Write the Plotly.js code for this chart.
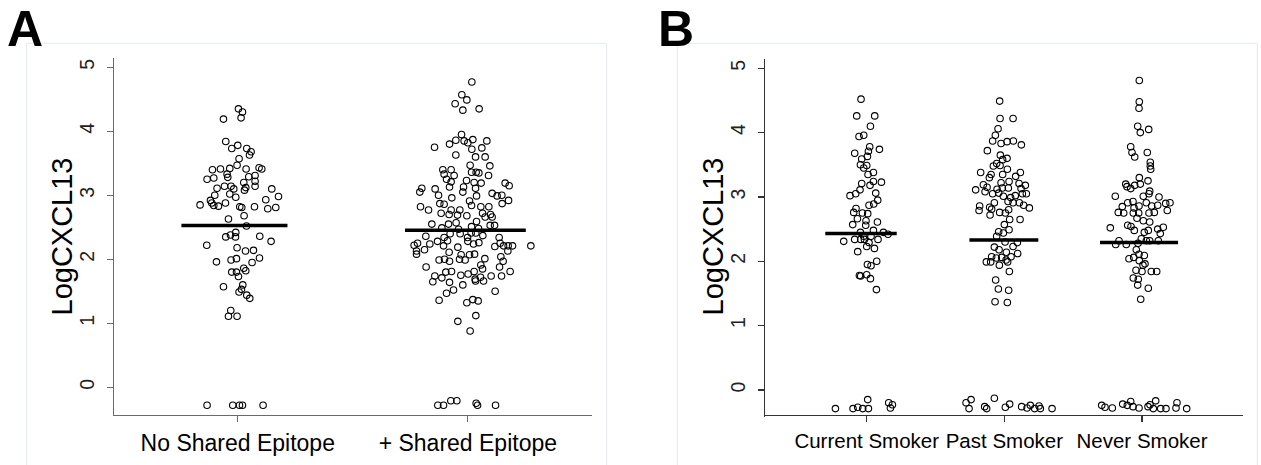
<!DOCTYPE html>
<html>
<head>
<meta charset="utf-8">
<script src="https://cdn.plot.ly/plotly-3.0.1.min.js"></script>
<style>html,body{margin:0;padding:0;background:#fff;}#chart{width:1261px;height:465px;}</style>
</head>
<body>
<div id="chart"></div>
<script>
// ---------- Panel A : Shared epitope ----------
var catsA = ["No Shared Epitope", "+ Shared Epitope"];
var noSE_y = [4.35,4.30,4.21,4.19,3.84,3.78,3.73,3.73,3.68,3.63,3.57,3.47,3.40,3.41,3.42,3.41,3.43,3.41,3.33,3.28,3.25,3.27,3.29,3.31,3.20,3.22,3.14,3.12,3.08,3.11,3.14,3.14,3.10,3.10,3.02,3.00,2.97,2.98,2.93,2.92,2.88,2.88,2.85,2.83,2.84,2.82,2.81,2.82,2.79,2.81,2.68,2.63,2.52,2.42,2.38,2.35,2.35,2.36,2.28,2.22,2.18,2.13,2.14,1.96,1.99,2.01,2.02,1.95,1.80,1.80,1.73,1.86,1.82,1.57,1.60,1.53,1.49,1.44,1.39,1.20,1.11,1.11,-0.28,-0.28,-0.28,-0.28,-0.28];
var noSE_jit = [0.7,4.7,3.3,-14.3,-12,0,-6,9,13.3,11.7,1.3,-0.7,-25.3,-17.3,-8,8.3,21.3,24,-10.7,-10,-30.7,-24,11,17.3,6,17.3,17.3,8,6.7,-20.7,-13.3,-6.7,-4,34,-8,-23,-2,40.7,28,-27.3,-26,-12.3,-37.7,-19.3,-24,2,4,16.7,30,38,6.3,-9.3,8.7,-2,-7.3,-12,-2.3,22,33.3,-31,-0.7,7.7,15.7,-21.3,-6.7,-1.3,21.7,14.3,-6,-1.3,0.7,6,8,-14.3,5,3.7,1.3,9,12,-7,-9.3,-0.7,-30.7,-5,1.7,4.7,25.3];
var SE_y = [4.77,4.57,4.49,4.43,4.33,4.35,3.95,3.86,3.80,3.85,3.82,3.87,3.85,3.75,3.72,3.74,3.63,3.60,3.60,3.47,3.46,3.40,3.40,3.36,3.36,3.35,3.33,3.31,3.31,3.25,3.23,3.21,3.20,3.19,3.13,3.13,3.11,3.19,3.15,3.11,3.05,3.10,3.05,3.00,2.96,2.99,3.03,2.99,3.00,2.92,2.87,2.91,2.87,2.86,2.84,2.82,2.77,2.82,2.82,2.77,2.77,2.72,2.70,2.69,2.68,2.72,2.66,2.70,2.66,2.59,2.57,2.55,2.55,2.51,2.53,2.53,2.49,2.47,2.48,2.40,2.40,2.41,2.41,2.36,2.37,2.34,2.34,2.34,
  2.22,2.25,2.13,2.08,2.15,2.24,2.28,2.21,2.29,2.19,2.28,2.24,2.26,2.20,2.25,2.21,2.13,2.21,2.21,2.21,2.11,2.07,2.07,2.08,1.99,2.00,1.97,2.00,1.99,2.01,2.04,1.97,1.88,1.91,1.85,1.88,1.80,1.81,1.81,1.81,1.74,1.71,1.75,1.77,1.69,1.72,1.74,1.74,1.65,1.64,1.66,1.66,1.60,1.52,1.47,1.50,1.36,1.32,1.37,1.35,1.03,1.12,0.88,-0.28,-0.28,-0.21,-0.21,-0.25,-0.28,-0.28];
var SE_jit = [4,-6,-1,-12.7,-5,11.3,-6.3,-12,-18.3,-3.7,0,5,19,-33.3,4,14,-12,7.7,17.3,2.3,22,-25,-16.7,3.7,8.3,11,-23.7,-13.7,20.7,-21.3,-1.3,-16.7,6.3,13.3,-18.3,-4.3,7.7,37.3,41.3,-46,-48,-32.7,-5,-29.3,-16,8.7,24.3,29.3,34,40.7,34.3,1.7,-28,-23.7,3.7,-47.3,-39.3,13,21,-16.7,-8,-26.7,-18.7,-10.3,-1,14.7,17.3,22.7,24.3,8.7,-11.7,-36,-19.3,3.7,22.3,26.7,-26,-9.3,10.7,-7.7,-17.7,3.3,8,-42,15,31.3,-23.7,-0.3,
  -53.7,-50.3,-51.3,-51.3,-43.3,-38,-30.3,-24.3,-20.3,-10,0,5.7,11,27,32.3,35.7,40,40.3,44.7,63,-18.7,-6.7,1.7,6.7,-28.7,-23.3,-18.3,-8.3,-2.7,17,33,35.3,-41.7,13,14.7,31.7,-22,-16.3,6.3,42.3,-33,-26,-7,0.3,7.3,12.7,23.3,33.7,-35,-18.3,7.7,15.7,-5,-14.3,-21.3,27.3,-28.7,-1,5,10.3,-10,8,2.3,-30,-24.3,-17,-11,8.3,9.7,27.7];
var mediansA = [2.526, 2.453];

// ---------- Panel B : Smoking status ----------
var catsB = ["Current Smoker", "Past Smoker", "Never Smoker"];
var current_y = [4.52,4.26,4.26,4.10,3.94,3.96,3.78,3.74,3.68,3.71,3.63,3.59,3.50,3.49,3.45,3.38,3.35,3.23,3.24,3.21,3.18,3.11,3.05,3.02,3.06,2.95,2.89,2.87,2.82,2.76,2.75,2.74,2.66,2.63,2.61,2.57,2.56,2.48,2.45,2.45,2.42,2.39,2.39,2.31,2.34,2.34,2.34,2.34,2.29,2.23,2.20,2.15,2.00,1.95,1.93,1.78,1.77,1.79,1.73,1.56,-0.29,-0.29,-0.27,-0.29,-0.29,-0.15,-0.20,-0.28,-0.23];
var current_jit = [-5.7,-10,8,3.7,-7.7,-3,3,12.7,-12,1.7,0.7,-5,-6.3,0,-3,6.7,1.3,14.7,6.7,-5,3.3,-6.7,-11,-16.7,9,11,7,2.3,-10.7,-13,-4.3,1,-9.3,-0.7,10.7,-14,-1,6.7,-6.3,16.7,21.3,-3,4.3,-23,-12,-6,-2.3,11.3,2.3,0,7.7,-9,10,0.7,4.3,-7.3,-6,0,3.7,9.7,-31.3,-13.7,-9,-4,1.7,1,22,23.7,25.7];
var past_y = [4.49,4.22,4.22,4.06,3.96,3.87,3.83,3.86,3.87,3.81,3.72,3.65,3.60,3.58,3.52,3.48,3.49,3.43,3.38,3.35,3.35,3.38,3.32,3.30,3.22,3.24,3.21,3.18,3.19,3.15,3.11,3.08,3.12,3.14,3.14,3.13,3.05,3.06,3.01,2.99,3.02,3.05,3.05,2.91,2.93,2.91,2.91,2.87,2.83,2.86,2.79,2.84,2.81,2.76,2.75,2.80,2.72,2.65,2.65,2.57,2.49,2.46,2.44,2.39,2.30,2.29,2.23,2.22,2.18,2.14,2.12,2.07,2.05,2.06,2.07,2.02,1.99,1.99,1.94,1.99,1.84,1.71,1.57,1.55,1.37,1.36,-0.20,-0.15,-0.29,-0.26,-0.29,-0.13,-0.27,-0.22,-0.26,-0.28,-0.24,-0.29,-0.25,-0.29,-0.29];
var past_jit = [-4.7,-4.3,8.7,-6.3,-9,-11.7,-3.3,2.7,9,17,-17,-4,2.7,-1.7,-7.7,-11,-4.3,3,-23.7,-13.3,-1.7,16,11.3,-15,-3.3,4.7,14.7,21,-21,-17.3,-28.7,-19.3,-7.3,-2,4,16.7,-11.7,-5.7,-1,6.3,11,18,22,-10,3.7,8.7,15,19.3,25,-24.7,-25.3,-14.7,-12.7,-4.7,1,4.3,-14.3,5.3,15.7,0,4.7,-5.7,-1,-7.7,0.7,13,8.7,-10,-5.3,2,13.3,-12.7,-8,-2.7,6.7,1.7,-18,-13.7,-5,3.3,5,-8.7,-6,4.3,-9.3,3,-38.3,-33.3,-35.3,-19.7,-17.7,-10,1,5.3,17.3,22.7,26,30.3,34.7,36,47.7];
var never_y = [4.81,4.48,4.38,4.10,4.00,4.05,3.78,3.69,3.62,3.69,3.54,3.48,3.43,3.30,3.25,3.20,3.16,3.13,3.18,3.20,3.09,3.05,3.01,3.01,3.00,2.93,2.91,2.85,2.91,2.83,2.86,2.86,2.87,2.90,2.91,2.79,2.76,2.75,2.75,2.75,2.75,2.76,2.67,2.63,2.61,2.56,2.54,2.52,2.53,2.50,2.48,2.48,2.45,2.43,2.35,2.32,2.26,2.26,2.28,2.32,2.32,2.32,2.18,2.11,2.09,2.04,2.06,2.01,1.96,1.94,1.86,1.84,1.84,1.84,1.74,1.72,1.63,1.58,1.41,-0.24,-0.27,-0.28,-0.22,-0.18,-0.24,-0.26,-0.28,-0.26,-0.23,-0.29,-0.17,-0.29,-0.29,-0.20,-0.28,-0.29];
var never_jit = [-2.7,-2.7,-3,-4.3,-1.7,6.7,-11.3,-10,-7.3,5.3,8.3,8.3,8.7,-2.7,6,-16.3,-15,-11.3,-7.3,-1.7,7.7,7,-26.7,1.3,17,-9,4.3,-19.7,-14.3,-8,-3,9.7,15.7,23.7,28,25.3,-23.7,-18.3,-8.7,-3.3,7,12.3,-5,1.3,7.7,-14.3,-11,-31.7,21.3,15.7,6.3,-7.7,2.3,18.3,-0.7,-23,-26.3,-15.7,-4,4.3,7.7,16.3,-5.7,-3,2.3,-13,-8.3,-2.7,3,1,-6,0,9.3,14.7,-8.7,-3.7,-4.3,6.3,-1.3,-40.3,-37,-29.7,-19.3,-11.3,-14.7,-9,-3,6,8,11.3,13.7,18.7,24,35,34,44.7];
var mediansB = [2.43, 2.33, 2.29];

var yTicks = [0, 1, 2, 3, 4, 5];
var yTitle = "LogCXCL13";
var panelLetters = ["A", "B"];

// jitter values are horizontal offsets in units of 1/N of a category step
var JIT_A = 230, JIT_B = 137.65;
// median bar extents (category units, left/right of centre)
var barA = [[-0.245, 0.216], [-0.273, 0.252]];
var barB = [[-0.301, 0.218], [-0.254, 0.247], [-0.305, 0.262]];

var FONT = "Liberation Sans, Arial, Helvetica, sans-serif";
var traces = [];
function dots(idx, ys, jit, div, xa, ya, name) {
  traces.push({
    type: "scatter", mode: "markers", name: name, xaxis: xa, yaxis: ya,
    x: ys.map(function (v, i) { return idx + jit[i] / div; }), y: ys,
    marker: { symbol: "circle-open", size: 6.5, color: "#000", line: { width: 1.1, color: "#000" } },
    hoverinfo: "y", showlegend: false
  });
}
function bar(idx, m, ext, xa, ya) {
  traces.push({
    type: "scatter", mode: "lines", xaxis: xa, yaxis: ya,
    x: [idx + ext[0], idx + ext[1]], y: [m, m],
    line: { color: "#000", width: 3.5 }, hoverinfo: "skip", showlegend: false
  });
}
dots(0, noSE_y, noSE_jit, JIT_A, "x", "y", catsA[0]);
dots(1, SE_y, SE_jit, JIT_A, "x", "y", catsA[1]);
dots(0, current_y, current_jit, JIT_B, "x2", "y2", catsB[0]);
dots(1, past_y, past_jit, JIT_B, "x2", "y2", catsB[1]);
dots(2, never_y, never_jit, JIT_B, "x2", "y2", catsB[2]);
mediansA.forEach(function (m, i) { bar(i, m, barA[i], "x", "y"); });
mediansB.forEach(function (m, i) { bar(i, m, barB[i], "x2", "y2"); });

function xax(dom, rng, vals, text, col, fs) {
  return { domain: dom, range: rng, tickvals: vals, ticktext: text, showgrid: false, zeroline: false,
    showline: true, linecolor: col, linewidth: 1.3, ticks: "outside", ticklen: 6, tickcolor: col, tickwidth: 1.3,
    ticklabelstandoff: 1, tickfont: { family: FONT, size: fs, color: "#000" }, fixedrange: true };
}
function yax(dom, rng, col, anchor) {
  return { domain: dom, range: rng, tickvals: yTicks, showgrid: false, zeroline: false, anchor: anchor,
    showline: true, linecolor: col, linewidth: 1.3, ticks: "outside", ticklen: 6, tickcolor: col, tickwidth: 1.3,
    tickangle: -90, ticklabelstandoff: 5, tickfont: { family: FONT, size: 19.5, color: "#222" },
    fixedrange: true };
}
function yTitleAnn(xpx) {
  return { text: yTitle, textangle: -90, xref: "paper", yref: "paper", x: xpx / 1261, y: 1 - 236.5 / 465,
    xanchor: "center", yanchor: "middle", showarrow: false, font: { family: FONT, size: 29, color: "#000" } };
}
function letterAnn(t, xpx) {
  return { text: "<b>" + t + "</b>", xref: "paper", yref: "paper", x: xpx / 1261, y: 1, xanchor: "center", yanchor: "top",
    showarrow: false, borderpad: 0, font: { family: FONT, size: 50, color: "#000" } };
}

var layout = {
  width: 1261, height: 465, margin: { l: 0, r: 0, t: 0, b: 0 },
  paper_bgcolor: "#fff", plot_bgcolor: "rgba(0,0,0,0)",
  xaxis: xax([114 / 1261, 592.3 / 1261], [-0.538, 1.541], [0, 1], catsA, "#6a6a6a", 23),
  yaxis: yax([0.1075, 0.8746], [-0.433, 5.14], "#6a6a6a", "x"),
  xaxis2: xax([765 / 1261, 1243.3 / 1261], [-0.739, 2.736], [0, 1, 2], catsB, "#333", 20.5),
  yaxis2: yax([0.1039, 0.8725], [-0.416, 5.14], "#333", "x2"),
  shapes: [
    { type: "rect", xref: "paper", yref: "paper", x0: 26.7 / 1261, x1: 606.7 / 1261, y0: -0.01, y1: 1 - 43.3 / 465,
      line: { color: "#e3eaec", width: 1 }, fillcolor: "rgba(0,0,0,0)", layer: "below" },
    { type: "rect", xref: "paper", yref: "paper", x0: 677.3 / 1261, x1: 1257.3 / 1261, y0: -0.01, y1: 1 - 43.3 / 465,
      line: { color: "#e3eaec", width: 1 }, fillcolor: "rgba(0,0,0,0)", layer: "below" }
  ],
  annotations: [
    letterAnn(panelLetters[0], 25), letterAnn(panelLetters[1], 676),
    yTitleAnn(62), yTitleAnn(713)
  ],
  showlegend: false
};
Plotly.newPlot("chart", traces, layout, { displayModeBar: false, staticPlot: true });
</script>
</body>
</html>
